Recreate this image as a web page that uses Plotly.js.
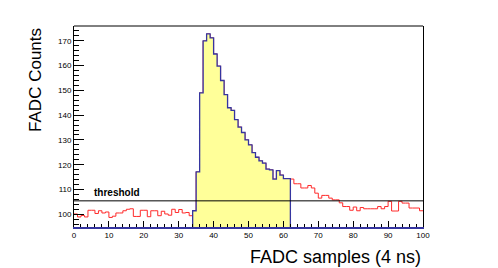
<!DOCTYPE html>
<html><head><meta charset="utf-8">
<script src="https://cdn.plot.ly/plotly-3.0.1.min.js"></script>
<style>html,body{margin:0;padding:0;background:#fff;}#chart{width:498px;height:268px;}</style>
</head><body><div id="chart"></div>
<script>
// FADC sample bins (lower edges, 4 ns each)
const sampleBins = [0,1,2,3,4,5,6,7,8,9,10,11,12,13,14,15,16,17,18,19,20,21,22,23,24,25,26,27,28,29,30,31,32,33,34,35,36,37,38,39,40,41,42,43,44,45,46,47,48,49,50,51,52,53,54,55,56,57,58,59,60,61,62,63,64,65,66,67,68,69,70,71,72,73,74,75,76,77,78,79,80,81,82,83,84,85,86,87,88,89,90,91,92,93,94,95,96,97,98,99];
const upperEdge = 100;
// FADC counts per sample
const fadcCounts = [
  100.1, 98.9, 99.5, 98.9, 101.6, 101.6, 100.3, 101.4, 100.5, 100.9,
  98.7, 99.2, 100.5, 100.5, 101.4, 102.0, 102.2, 99.1, 99.1, 101.6,
  101.6, 99.0, 101.4, 101.4, 99.4, 101.2, 100.1, 99.6, 102.0, 100.7,
  101.9, 100.5, 100.7, 99.4, 101.4, 117.1, 149.0, 170.0, 172.8, 171.2,
  164.7, 159.8, 154.0, 148.3, 143.0, 141.9, 138.2, 135.2, 133.0, 130.0,
  128.0, 124.9, 123.0, 121.5, 120.6, 118.2, 117.9, 114.2, 117.6, 115.8,
  114.4, 114.4, 114.2, 112.3, 112.3, 110.6, 110.6, 111.6, 110.6, 108.5,
  106.5, 107.6, 107.6, 106.5, 105.8, 105.8, 104.6, 103.1, 103.1, 101.6,
  102.9, 101.4, 102.7, 102.2, 102.2, 102.2, 102.2, 103.1, 102.2, 103.1,
  105.2, 101.3, 101.3, 105.2, 104.5, 104.5, 102.5, 102.5, 102.5, 101.4
];
const signalFirstBin = 34;
const signalLastBin = 61;
const thresholdLevel = 105.4;
const thresholdText = 'threshold';
const xTitle = 'FADC samples (4 ns)';
const yTitle = 'FADC Counts';

const xs = sampleBins.concat([upperEdge]);
const redY = fadcCounts.concat([fadcCounts[fadcCounts.length-1]]);
const sigCounts = fadcCounts.map((v,i)=> (sampleBins[i]>=signalFirstBin && sampleBins[i]<=signalLastBin) ? v : 0);
const blueY = sigCounts.concat([sigCounts[sigCounts.length-1]]);

const blue = '#3535a0';
const traces = [
  {x: xs, y: redY, type:'scatter', mode:'lines', line:{shape:'hv', color:'#ff2a2a', width:1}, hoverinfo:'skip'},
  {x: xs, y: blueY, type:'scatter', mode:'lines', line:{shape:'hv', color:blue, width:1.3}, fill:'tozeroy', fillcolor:'#ffff99', hoverinfo:'skip'},
  {x: [0, upperEdge], y: [thresholdLevel, thresholdLevel], type:'scatter', mode:'lines', line:{color:'#000', width:1}, hoverinfo:'skip'}
];
const font = 'Liberation Sans, Arial, Helvetica, sans-serif';
const layout = {
  width: 498, height: 268,
  margin: {l:74, r:75, t:26, b:41, pad:0},
  paper_bgcolor:'#fff', plot_bgcolor:'#fff',
  showlegend:false,
  font:{family:font, color:'#000'},
  xaxis:{range:[0,100], tick0:0, dtick:10, ticks:'inside', ticklen:6, tickwidth:1, tickcolor:'#000',
    minor:{dtick:2, ticks:'inside', ticklen:3, tickcolor:'#000', tickwidth:1},
    showline:true, linecolor:blue, linewidth:1.5, mirror:false, showgrid:false, zeroline:false,
    tickfont:{family:font, size:8, color:'#000'}},
  yaxis:{range:[94.84,176], tick0:0, dtick:10, ticks:'inside', ticklen:10, tickwidth:1, tickcolor:'#000',
    minor:{dtick:2, ticks:'inside', ticklen:5, tickcolor:'#000', tickwidth:1},
    showline:true, linecolor:'#000', linewidth:1, mirror:true, showgrid:false, zeroline:false,
    tickfont:{family:font, size:8, color:'#000'}},
  shapes:[{type:'line', xref:'paper', yref:'paper', x0:0, x1:1, y0:1, y1:1, line:{color:'#000', width:1}}],
  annotations:[
    {text:'<b>'+thresholdText+'</b>', xref:'x', yref:'y', x:5.2, y:thresholdLevel, xanchor:'left', yanchor:'bottom', yshift:1, showarrow:false, font:{family:font, size:10, color:'#000'}},
    {text:xTitle, xref:'paper', yref:'paper', x:1, y:-0.149, xanchor:'right', yanchor:'middle', showarrow:false, font:{family:font, size:18, color:'#000'}},
    {text:yTitle, xref:'paper', yref:'paper', x:-0.112, y:1, xanchor:'center', yanchor:'top', textangle:-90, showarrow:false, font:{family:font, size:17, color:'#000'}}
  ]
};
Plotly.newPlot('chart', traces, layout, {staticPlot:true, displayModeBar:false});
</script>
</body></html>
